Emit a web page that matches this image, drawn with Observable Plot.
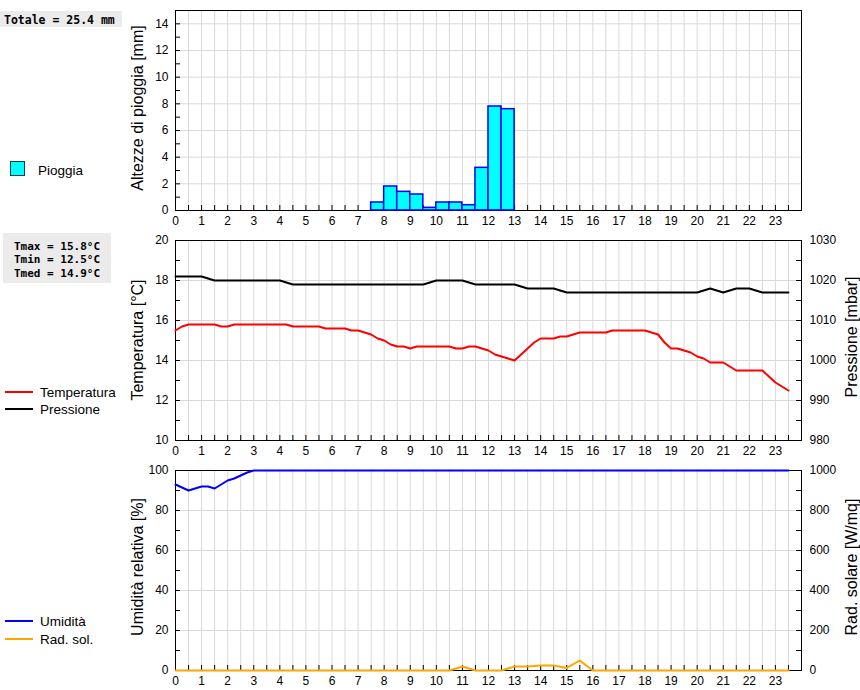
<!DOCTYPE html>
<html><head><meta charset="utf-8">
<script src="https://cdn.jsdelivr.net/npm/d3@7"></script>
<script src="https://cdn.jsdelivr.net/npm/@observablehq/plot@0.6"></script>
<style>
body{margin:0;background:#fff;}
#wrap{position:relative;width:860px;height:690px;overflow:hidden;background:#fff;}
#wrap > svg{position:absolute;left:0;}
</style></head><body><div id="wrap"></div>
<script>
// ---- data ----
const hourLabels = [0,1,2,3,4,5,6,7,8,9,10,11,12,13,14,15,16,17,18,19,20,21,22,23];
const rainStart = [7.5,8,8.5,9,9.5,10,10.5,11,11.5,12,12.5];
const rainMm    = [0.6,1.8,1.4,1.2,0.2,0.6,0.6,0.4,3.2,7.8,7.6];
const temperature = [15.5,15.7,15.8,15.8,15.8,15.8,15.8,15.7,15.7,15.8,15.8,15.8,15.8,15.8,15.8,15.8,15.8,15.8,
  15.7,15.7,15.7,15.7,15.7,15.6,15.6,15.6,15.6,15.5,15.5,15.4,15.3,15.1,15.0,14.8,14.7,14.7,14.6,14.7,14.7,14.7,
  14.7,14.7,14.7,14.6,14.6,14.7,14.7,14.6,14.5,14.3,14.2,14.1,14.0,14.3,14.6,14.9,15.1,15.1,15.1,15.2,15.2,15.3,
  15.4,15.4,15.4,15.4,15.4,15.5,15.5,15.5,15.5,15.5,15.5,15.4,15.3,14.9,14.6,14.6,14.5,14.4,14.2,14.1,13.9,13.9,
  13.9,13.7,13.5,13.5,13.5,13.5,13.5,13.2,12.9,12.7,12.5];
const pressure = [1021,1021,1021,1021,1021,1020.5,1020,1020,1020,1020,1020,1020,1020,1020,1020,1020,1020,1019.5,
  1019,1019,1019,1019,1019,1019,1019,1019,1019,1019,1019,1019,1019,1019,1019,1019,1019,1019,1019,1019,1019,1019.5,
  1020,1020,1020,1020,1020,1019.5,1019,1019,1019,1019,1019,1019,1019,1018.5,1018,1018,1018,1018,1018,1017.5,
  1017,1017,1017,1017,1017,1017,1017,1017,1017,1017,1017,1017,1017,1017,1017,1017,1017,1017,1017,1017,1017,
  1017.5,1018,1017.5,1017,1017.5,1018,1018,1018,1017.5,1017,1017,1017,1017,1017];
const humidity = [93,91.5,90,91,92,92,91,93,95,96,97.5,99,
  100,100,100,100,100,100,100,100,100,100,100,100,100,100,100,100,100,100,100,100,
  100,100,100,100,100,100,100,100,100,100,100,100,100,100,100,100,100,100,100,100,
  100,100,100,100,100,100,100,100,100,100,100,100,100,100,100,100,100,100,100,100,
  100,100,100,100,100,100,100,100,100,100,100,100,100,100,100,100,100,100,100,100,
  100,100,100];
const radiation = [0,0,0,0,0,0,0,0,0,0,0,0,0,0,0,0,0,0,0,0,0,0,
  20,0,0,0,20,20,25,25,13,50,0,
  0,0,0,0,0,0,0,0,0,0,0,0,0,0,0];
const t15 = temperature.map((_, i) => i * 0.25);   // quarter-hour timestamps
const t30 = radiation.map((_, i) => i * 0.5);      // half-hour timestamps

// ---- layout ----
const W = 860, ML = 175, MR = 59;
const GRID = "#d9d9d9";
const FONT = "'Liberation Sans', Arial, sans-serif";
const wrap = document.getElementById("wrap");
const halfTicks = d3.range(0, 24, 0.5);
const gridX = d3.range(0.5, 24, 0.5);

function panel({top, height, mt, mb, yDomain, leftLabels, leftMinor, gridY, right, marks}) {
  const plotH = height - mt - mb;
  const ty = 5 * (yDomain[1] - yDomain[0]) / plotH;
  const tx = 5 * 24 / (W - ML - MR);
  const m = [
    Plot.ruleX(gridX, {x: d => d, stroke: GRID}),
    Plot.ruleY(gridY, {y: d => d, stroke: GRID}),
    Plot.frame({stroke: "black"}),
    Plot.ruleX(halfTicks, {x: d => d, y1: yDomain[0], y2: yDomain[0] + ty, stroke: "black"}),
    Plot.ruleY(leftMinor, {y: d => d, x1: 0, x2: tx, stroke: "black"}),
    Plot.axisX(hourLabels, {x: d => d, tickSize: 0, tickPadding: 6, fontSize: 12, label: null, tickFormat: d => String(d)}),
    Plot.axisY(leftLabels, {y: d => d, anchor: "left", tickSize: 0, tickPadding: 7, fontSize: 12, label: null, tickFormat: d => String(d)})
  ];
  if (right) {
    m.push(Plot.ruleY(right.minor, {y: d => d, x1: 24 - tx, x2: 24, stroke: "black"}));
    m.push(Plot.axisY(right.labels, {y: d => d, anchor: "right", tickSize: 0, tickPadding: 8, fontSize: 12, label: null, tickFormat: right.format}));
  }
  const svg = Plot.plot({
    width: W, height, marginLeft: ML, marginRight: MR, marginTop: mt, marginBottom: mb,
    style: {fontFamily: FONT, fontSize: "12px", background: "transparent", overflow: "visible", color: "black"},
    x: {domain: [0, 24]},
    y: {domain: yDomain},
    marks: [...m, ...marks]
  });
  svg.style.top = top + "px";
  wrap.appendChild(svg);
}

// Panel 1: rain
panel({
  top: 0, height: 232, mt: 10, mb: 22, yDomain: [0, 15],
  leftLabels: [0,2,4,6,8,10,12,14], leftMinor: d3.range(1, 15, 1), gridY: [2,4,6,8,10,12,14],
  marks: [
    Plot.rectY(rainMm.map((v, i) => ({s: rainStart[i], v})), {x1: "s", x2: d => d.s + 0.5, y: "v", fill: "#00ffff", stroke: "#0000ff", strokeWidth: 1.5})
  ]
});

// Panel 2: temperature / pressure (pressure mapped onto temperature scale)
const pToT = p => 10 + (p - 980) / 5;
const tToP = t => String(Math.round(980 + (t - 10) * 5));
panel({
  top: 230, height: 232, mt: 10, mb: 22, yDomain: [10, 20],
  leftLabels: [10,12,14,16,18,20], leftMinor: d3.range(11, 20, 1), gridY: [12,14,16,18],
  right: {labels: [980,990,1000,1010,1020,1030].map(pToT), minor: d3.range(985, 1030, 5).map(pToT), format: tToP},
  marks: [
    Plot.line(pressure.map((p, i) => ({t: t15[i], v: pToT(p)})), {x: "t", y: "v", stroke: "black", strokeWidth: 2}),
    Plot.line(temperature.map((v, i) => ({t: t15[i], v})), {x: "t", y: "v", stroke: "#ff0000", strokeWidth: 2})
  ]
});

// Panel 3: humidity / solar radiation (radiation mapped onto humidity scale)
const rToH = r => r / 10;
const hToR = h => String(Math.round(h * 10));
panel({
  top: 460, height: 230, mt: 10, mb: 20, yDomain: [0, 100],
  leftLabels: [0,20,40,60,80,100], leftMinor: d3.range(10, 100, 10), gridY: [20,40,60,80],
  right: {labels: [0,200,400,600,800,1000].map(rToH), minor: d3.range(100, 1000, 100).map(rToH), format: hToR},
  marks: [
    Plot.line(humidity.map((v, i) => ({t: t15[i], v})), {x: "t", y: "v", stroke: "#0000ff", strokeWidth: 2}),
    Plot.line(radiation.map((r, i) => ({t: t30[i], v: rToH(r)})), {x: "t", y: "v", stroke: "#ffa500", strokeWidth: 2})
  ]
});

// ---- overlay: titles, legends, info boxes ----
const ov = d3.select(wrap).append("svg").attr("width", W).attr("height", 690).style("top", "0px");
const titles = [
  {text: "Altezze di pioggia [mm]", x: 137, y: 108},
  {text: "Temperatura [°C]", x: 137, y: 340},
  {text: "Umidità relativa [%]", x: 137, y: 567},
  {text: "Pressione [mbar]", x: 851, y: 337},
  {text: "Rad. solare [W/mq]", x: 851, y: 567}
];
titles.forEach(d => ov.append("text").attr("transform", `translate(${d.x},${d.y}) rotate(-90)`)
  .attr("text-anchor", "middle").attr("dominant-baseline", "central")
  .style("font-family", FONT).style("font-size", "16px").text(d.text));

const MONO = "'DejaVu Sans Mono', 'Liberation Mono', monospace";
ov.append("rect").attr("x", 0).attr("y", 11).attr("width", 122).attr("height", 16).attr("fill", "#ebebeb");
ov.append("text").attr("x", 4).attr("y", 19.5).attr("dominant-baseline", "central")
  .style("font-family", MONO).style("font-weight", "bold").style("font-size", "11.5px").text("Totale = 25.4 mm");
ov.append("rect").attr("x", 3).attr("y", 233).attr("width", 108).attr("height", 50).attr("fill", "#ebebeb");
["Tmax = 15.8°C", "Tmin = 12.5°C", "Tmed = 14.9°C"].forEach((s, i) =>
  ov.append("text").attr("x", 14).attr("y", 246 + i * 13.5).attr("dominant-baseline", "central")
    .style("font-family", MONO).style("font-weight", "bold").style("font-size", "11px").text(s));

const LF = "13.5px";
ov.append("rect").attr("x", 10.5).attr("y", 161.5).attr("width", 14).attr("height", 14).attr("fill", "#00ffff").attr("stroke", "#004050");
ov.append("text").attr("x", 38).attr("y", 170).attr("dominant-baseline", "central").style("font-family", FONT).style("font-size", LF).text("Pioggia");
const legendLines = [
  {text: "Temperatura", y: 392, c: "#ff0000"},
  {text: "Pressione", y: 409, c: "black"},
  {text: "Umidità", y: 621, c: "#0000ff"},
  {text: "Rad. sol.", y: 639, c: "#ffa500"}
];
legendLines.forEach(d => {
  ov.append("line").attr("x1", 5).attr("x2", 33).attr("y1", d.y).attr("y2", d.y).attr("stroke", d.c).attr("stroke-width", 2);
  ov.append("text").attr("x", 40).attr("y", d.y).attr("dominant-baseline", "central").style("font-family", FONT).style("font-size", LF).text(d.text);
});
</script></body></html>
